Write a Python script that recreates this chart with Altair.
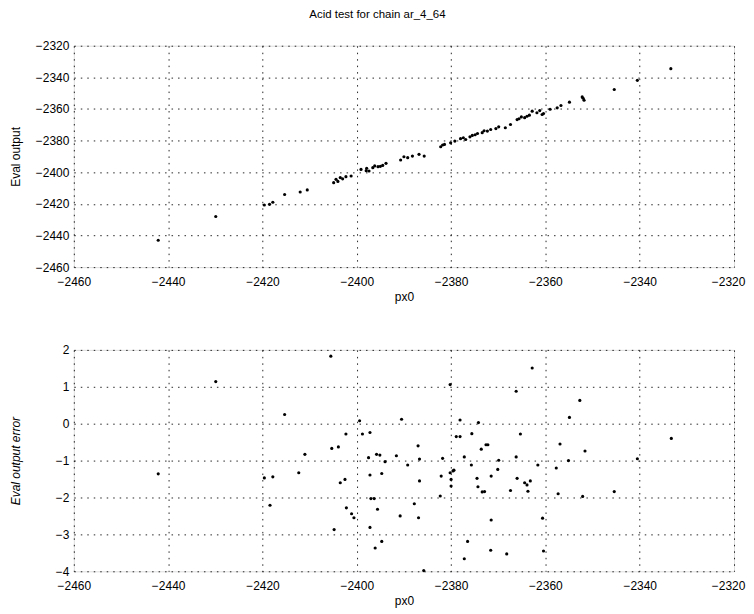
import altair as alt
import pandas as pd

TITLE = "Acid test for chain ar_4_64"

# Top panel: px0 vs Eval output
top_px0 = [-2442.1, -2429.9, -2419.6, -2418.5, -2417.8, -2415.3, -2412.0, -2410.5,
           -2404.9, -2404.4, -2403.5, -2402.3, -2401.2, -2399.1, -2397.4, -2396.6,
           -2395.5, -2394.5, -2393.8, -2390.7, -2390.0, -2388.2, -2386.8, -2385.7,
           -2382.2, -2381.4, -2380.1, -2379.2, -2378.0, -2376.9, -2375.5, -2374.4,
           -2373.4, -2372.3, -2371.6, -2369.9, -2368.5, -2367.4, -2366.0, -2365.1,
           -2363.9, -2362.8, -2361.8, -2360.7, -2360.4, -2357.5, -2356.7, -2354.9,
           -2352.2, -2351.8, -2345.4, -2340.5, -2333.4,
           -2404.0, -2403.0, -2398.0, -2397.9, -2396.2, -2395.0, -2389.2, -2381.8,
           -2377.4, -2376.0, -2374.9, -2373.0, -2370.5, -2365.6, -2364.4, -2363.4,
           -2361.2, -2359.0, -2352.0]
top_eval = [-2443.0, -2428.0, -2420.7, -2420.3, -2419.0, -2414.1, -2412.5, -2411.2,
            -2406.6, -2404.5, -2403.4, -2402.8, -2402.4, -2398.2, -2399.2, -2397.1,
            -2396.5, -2395.7, -2394.4, -2392.3, -2390.2, -2389.8, -2388.7, -2389.8,
            -2383.9, -2382.4, -2381.4, -2380.3, -2378.8, -2379.3, -2376.7, -2375.5,
            -2375.0, -2374.0, -2373.0, -2371.3, -2371.9, -2369.8, -2366.7, -2365.0,
            -2364.6, -2361.4, -2362.4, -2363.5, -2362.9, -2359.3, -2357.8, -2355.7,
            -2352.4, -2354.5, -2347.7, -2341.9, -2334.5,
            -2405.8, -2404.2, -2399.0, -2397.5, -2396.0, -2396.3, -2390.8, -2382.8,
            -2378.2, -2377.6, -2376.3, -2373.8, -2372.4, -2366.2, -2365.5, -2363.9,
            -2361.0, -2360.2, -2353.2]

# Bottom panel: px0 vs Eval output error
bot_px0 = [-2442.1, -2429.9, -2419.6, -2417.8, -2418.4, -2415.3, -2412.3, -2411.0,
           -2405.5, -2405.3, -2403.9, -2402.3, -2403.5, -2402.5, -2404.8, -2402.2,
           -2401.1, -2400.6, -2399.4, -2398.8, -2397.2, -2397.5, -2397.2, -2397.0,
           -2396.3, -2395.6, -2397.2, -2396.1, -2394.7, -2395.8, -2395.1, -2394.7,
           -2394.0, -2391.6, -2390.5, -2389.2, -2390.8, -2387.8, -2387.0, -2386.7,
           -2386.7, -2386.9, -2385.8, -2382.3, -2382.1, -2381.8, -2380.2, -2380.2,
           -2380.0, -2380.0, -2379.6, -2379.4, -2378.9, -2378.1, -2378.1, -2377.2,
           -2377.2, -2376.5, -2375.7, -2375.6, -2374.5, -2374.3, -2374.2, -2373.6,
           -2373.4, -2372.9, -2372.6, -2372.2, -2371.5, -2371.5, -2371.6, -2370.1,
           -2369.9, -2368.2, -2367.4, -2366.2, -2366.2, -2366.0, -2365.3, -2364.4,
           -2363.9, -2363.7, -2363.2, -2362.8, -2361.6, -2360.6, -2360.4, -2357.7,
           -2357.3, -2356.9, -2355.1, -2354.9, -2352.7, -2352.1, -2351.6, -2345.4,
           -2340.5, -2333.3]
bot_err = [-1.36, 1.14, -1.47, -1.44, -2.21, 0.25, -1.33, -0.83,
           1.83, -0.67, -0.63, -0.28, -1.60, -1.51, -2.87, -2.28,
           -2.44, -2.55, 0.08, -0.28, -0.24, -0.92, -1.39, -2.03,
           -2.03, -2.32, -2.81, -3.37, -3.19, -0.83, -0.85, -1.35,
           -1.03, -0.87, 0.12, -1.12, -2.50, -2.17, -0.60, -0.96,
           -1.55, -2.55, -3.98, -1.96, -1.42, -0.94, 1.06, -1.33,
           -1.51, -1.69, -1.28, -1.26, -0.35, -0.35, 0.10, -0.90,
           -3.66, -3.19, -1.12, -0.27, -1.48, -1.71, 0.03, -0.69,
           -1.85, -1.84, -0.57, -0.57, -1.42, -2.61, -3.43, -1.24,
           -0.99, -3.53, -1.81, 0.88, -0.90, -1.48, -0.28, -1.60,
           -1.66, -1.83, -1.55, 1.51, -1.12, -2.56, -3.45, -1.20,
           -1.90, -0.55, -1.00, 0.17, 0.63, -1.97, -0.74, -1.84,
           -0.95, -0.40]

x_ticks = [-2460, -2440, -2420, -2400, -2380, -2360, -2340, -2320]
top_y_ticks = [-2460, -2440, -2420, -2400, -2380, -2360, -2340, -2320]
bot_y_ticks = [-4, -3, -2, -1, 0, 1, 2]

FONT = "Liberation Sans"
W, H = 662, 222

top_df = pd.DataFrame({"px0": top_px0, "val": top_eval})
bot_df = pd.DataFrame({"px0": bot_px0, "val": bot_err})


def axis(italic=False, **kw):
    return alt.Axis(
        grid=True, gridColor="black", gridDash=[1.5, 5], gridWidth=1, gridOpacity=0.85,
        ticks=False, domain=False, labelFont=FONT, labelFontSize=12,
        labelColor="black", titleFont=FONT, titleFontSize=12, titleColor="black",
        titleFontWeight="normal", titleFontStyle="italic" if italic else "normal",
        **kw)


def panel(df, yticks, ytitle, italic):
    return alt.Chart(df).mark_circle(size=10, color="black", opacity=1).encode(
        x=alt.X("px0:Q", title="px0",
                scale=alt.Scale(domain=[x_ticks[0], x_ticks[-1]], nice=False, zero=False),
                axis=axis(values=x_ticks, format="d", labelPadding=9, titlePadding=4,
                          labelFlush=False,
                          labelOffset={"condition": {"test": "datum.value == -2320",
                                                     "value": -6},
                                       "value": 0})),
        y=alt.Y("val:Q", title=ytitle,
                scale=alt.Scale(domain=[yticks[0], yticks[-1]], nice=False, zero=False),
                axis=axis(italic=italic, values=yticks, format="d", labelPadding=5,
                          titleX=-51, titleY=H / 2, titleAnchor="middle")),
    ).properties(width=W, height=H)


top = panel(top_df, top_y_ticks, "Eval output", False)
bot = panel(bot_df, bot_y_ticks, "Eval output error", True)

chart = alt.vconcat(top, bot, spacing=40).properties(
    title=alt.TitleParams(TITLE, font=FONT, fontSize=11.5, fontWeight="normal",
                          color="black", anchor="middle", offset=19),
    padding={"left": 1, "top": 0, "right": 0, "bottom": 0},
).configure_view(stroke="black", strokeWidth=1).configure(background="white")

chart.save("out.html", embed_options={"renderer": "svg", "actions": False})
